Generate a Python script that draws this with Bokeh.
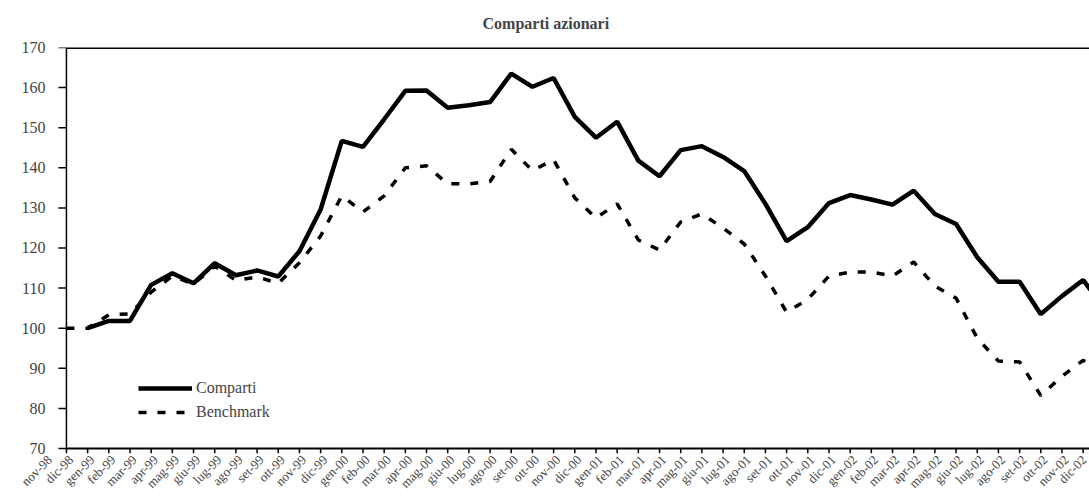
import math
from bokeh.plotting import figure
from bokeh.models import (Range1d, FixedTicker, Legend, LegendItem, ColumnDataSource)
from bokeh.embed import file_html
from bokeh.resources import INLINE

months = ["nov-98","dic-98","gen-99","feb-99","mar-99","apr-99","mag-99","giu-99","lug-99","ago-99",
          "set-99","ott-99","nov-99","dic-99","gen-00","feb-00","mar-00","apr-00","mag-00","giu-00",
          "lug-00","ago-00","set-00","ott-00","nov-00","dic-00","gen-01","feb-01","mar-01","apr-01",
          "mag-01","giu-01","lug-01","ago-01","set-01","ott-01","nov-01","dic-01","gen-02","feb-02",
          "mar-02","apr-02","mag-02","giu-02","lug-02","ago-02","set-02","ott-02","nov-02","dic-02"]

comparti = [float("nan"), 100, 101.8, 101.8, 110.8, 113.7, 111.2, 116.2, 113.2, 114.4,
            112.9, 119.2, 129.6, 146.7, 145.2, 152.1, 159.2, 159.3, 155.0, 155.6,
            156.4, 163.5, 160.2, 162.4, 152.7, 147.5, 151.5, 141.8, 137.9, 144.4,
            145.4, 142.7, 139.2, 131.0, 121.7, 125.2, 131.2, 133.2, 132.1, 130.8,
            134.3, 128.5, 126.0, 117.7, 111.6, 111.6, 103.5, 108.0, 112.0, 105.0]

benchmark = [100, 100, 103.3, 103.6, 109.0, 113.0, 111.0, 115.5, 111.9, 112.8,
             111.2, 116.3, 123.0, 133.0, 129.0, 133.0, 140.0, 140.5, 136.0, 136.0,
             136.6, 144.6, 139.3, 142.0, 132.5, 127.5, 131.0, 122.0, 119.5, 126.5,
             128.5, 125.0, 121.0, 113.0, 104.0, 107.2, 113.0, 114.0, 114.0, 113.0,
             116.5, 110.5, 107.5, 97.5, 91.8, 91.6, 83.2, 88.0, 92.0, 89.0]

y_ticks = [70, 80, 90, 100, 110, 120, 130, 140, 150, 160, 170]

FONT = "Liberation Serif"
LABEL_SHIFT = 0.79   # rotated month labels sit diagonally below-left of their tick, as in the reference
TICK_X = 0.38        # length of value-axis tick marks, in category units (~8px)
TICK_Y = 1.25        # length of category-axis tick marks, in value units (~5px)
idx = list(range(len(months)))
src = ColumnDataSource(dict(x=idx, c=comparti, b=benchmark))

y0, y1 = y_ticks[0], y_ticks[-1]
p = figure(width=1089, height=499, output_backend="svg", toolbar_location=None,
           x_range=Range1d(-0.8, 48.3), y_range=Range1d(y0 - TICK_Y, y1),
           min_border_left=49, min_border_right=0, min_border_top=47, min_border_bottom=46)
p.outline_line_color = None
p.xgrid.visible = False
p.ygrid.visible = False

p.title.text = "Comparti azionari"
p.title.align = "left"
p.title.vertical_align = "top"
p.title.offset = 433
p.title.text_font = FONT
p.title.text_font_style = "bold"
p.title.text_font_size = "16px"
p.title.standoff = 28

# axis lines and top border
p.line(x=[idx[0], idx[0]], y=[y0, y1], line_color="black", line_width=1.5)
p.line(x=[idx[0], idx[-1]], y=[y0, y0], line_color="black", line_width=2)
p.line(x=[idx[0], idx[-1]], y=[y1, y1], line_color="black", line_width=3)
# tick marks (outside the axes)
p.segment(x0=[idx[0] - TICK_X] * len(y_ticks), x1=[idx[0]] * len(y_ticks), y0=y_ticks, y1=y_ticks,
          line_color="black", line_width=1.5)
p.segment(x0=idx, x1=idx, y0=[y0] * len(idx), y1=[y0 - TICK_Y] * len(idx),
          line_color="black", line_width=1.5)

r_b = p.line("x", "b", source=src, line_color="black", line_width=3.5, line_dash="8 11")
r_c = p.line("x", "c", source=src, line_color="black", line_width=4.5)

xa = p.xaxis[0]
xa.ticker = FixedTicker(ticks=[i - LABEL_SHIFT for i in idx])
xa.major_label_overrides = {i - LABEL_SHIFT: m for i, m in zip(idx, months)}
xa.major_label_orientation = math.pi / 4
xa.major_label_text_font = FONT
xa.major_label_text_font_size = "13px"
xa.major_label_standoff = 4
xa.major_tick_line_color = None
xa.major_tick_in = 0
xa.major_tick_out = 0
xa.minor_tick_line_color = None
xa.minor_tick_out = 0
xa.minor_tick_in = 0
xa.axis_line_color = None

ya = p.yaxis[0]
ya.ticker = FixedTicker(ticks=y_ticks)
ya.major_label_text_font = FONT
ya.major_label_text_font_size = "16px"
ya.major_tick_line_color = None
ya.major_tick_in = 0
ya.major_tick_out = 0
ya.minor_tick_line_color = None
ya.minor_tick_out = 0
ya.axis_line_color = None
ya.major_label_standoff = 4

legend = Legend(items=[LegendItem(label="Comparti", renderers=[r_c]),
                       LegendItem(label="Benchmark", renderers=[r_b])],
                location=(89, 31), glyph_width=54, glyph_height=20, label_standoff=4,
                spacing=4, padding=0, margin=0, border_line_color=None,
                background_fill_alpha=0, label_text_font=FONT, label_text_font_size="16px")
p.add_layout(legend)

open("out.html", "w").write(file_html(p, INLINE))
